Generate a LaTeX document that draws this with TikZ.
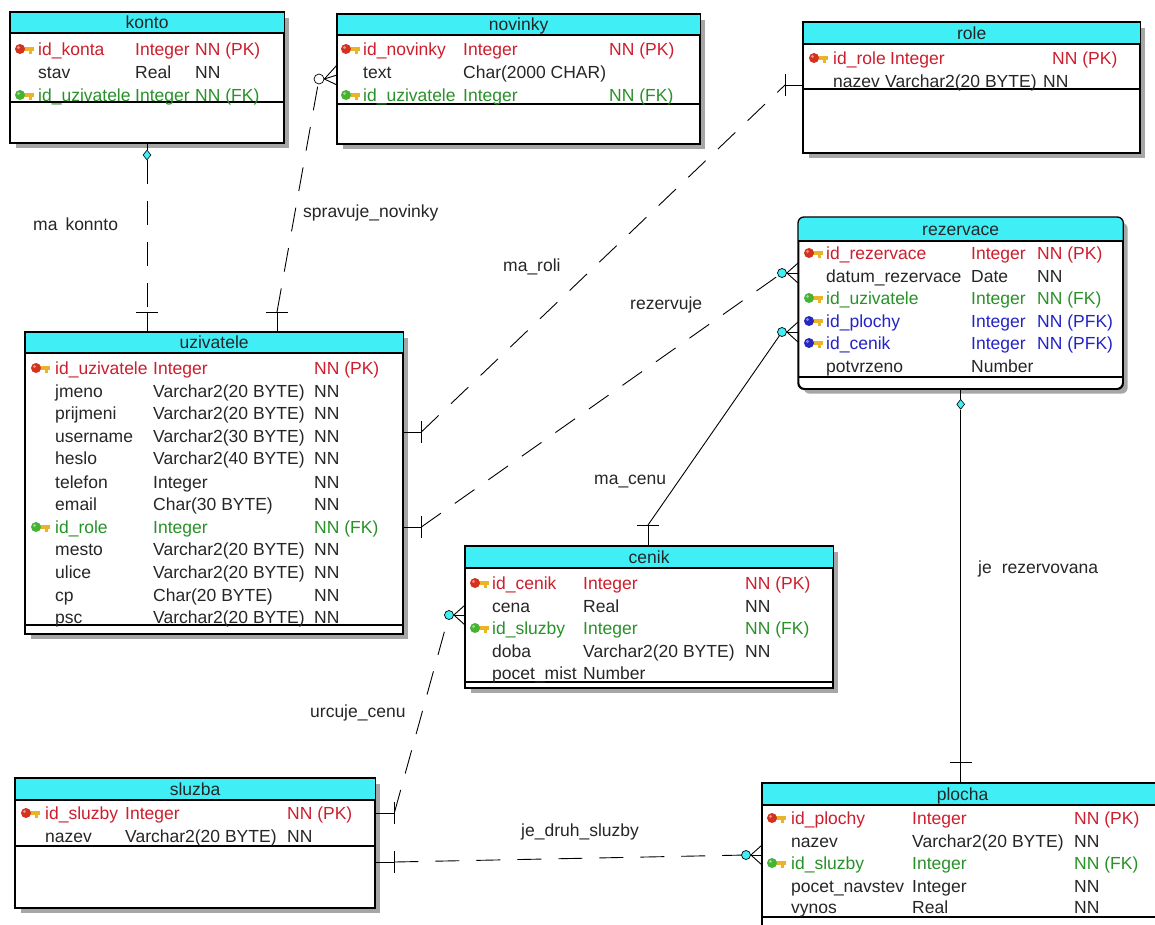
\documentclass[tikz,border=0pt]{standalone}
\usepackage{fontspec}
\setmainfont{Liberation Sans}
\usetikzlibrary{calc,shadows,shapes.geometric}
\definecolor{hdrcyan}{RGB}{64,238,246}
\definecolor{pkred}{RGB}{205,30,45}
\definecolor{fkgreen}{RGB}{40,145,40}
\definecolor{pfkblue}{RGB}{35,35,200}
\definecolor{keygold}{RGB}{235,180,40}
\definecolor{keyred}{RGB}{210,50,30}
\definecolor{keygreen}{RGB}{70,180,50}
\definecolor{keyblue}{RGB}{40,40,190}
\newcommand{\erf}{\fontsize{17.5}{20}\selectfont}
\tikzset{
  every node/.style={font=\erf},
  tbl/.style={draw=black, line width=1.3pt, fill=white, anchor=north west, inner sep=0pt,
    drop shadow={shadow xshift=5pt, shadow yshift=-5pt, fill=black!35, opacity=1}},
  tblline/.style={draw=black, line width=1.3pt},
  hdr/.style={fill=hdrcyan},
  ttl/.style={anchor=base, inner sep=0pt, text=black!85},
  rt/.style={anchor=base west, inner sep=0pt},
  txtblack/.style={text=black!85},
  txtpk/.style={text=pkred},
  txtfk/.style={text=fkgreen},
  txtpfk/.style={text=pfkblue},
  conn/.style={draw=black, line width=0.9pt},
  ldash/.style={dash pattern=on 24pt off 17pt},
  diam/.style={diamond, draw=black, fill=hdrcyan, inner sep=0pt, minimum width=8pt, minimum height=10pt, line width=0.6pt},
  ocirc/.style={circle, draw=black, fill=hdrcyan, inner sep=0pt, minimum size=9pt, line width=0.7pt},
  wcirc/.style={circle, draw=black, fill=white, inner sep=0pt, minimum size=10pt, line width=0.7pt},
  lbl/.style={anchor=base west, inner sep=0pt, text=black!85}
}
% table: [opts]{name}{x}{y}{w}{h}{header h}{separator offset}{title}
\newcommand{\ertable}[9][]{%
  \node[tbl,#1, minimum width=#5pt, minimum height=#6pt] (#2) at (#3,#4) {};
  \begin{scope}
    \clip[#1] (#2.north west) rectangle (#2.south east);
    \fill[hdr] (#2.north west) rectangle ([yshift=-#7pt]#2.north east);
  \end{scope}
  \draw[tblline] ([yshift=-#7pt]#2.north west) -- ([yshift=-#7pt]#2.north east);
  \draw[tblline] ([yshift=-#8pt]#2.north west) -- ([yshift=-#8pt]#2.north east);
  \draw[tblline,#1] (#2.north west) rectangle (#2.south east);
  \node[ttl] (#2-title) at ([yshift={-(0.5*#7+6)*1pt}]#2.north) {#9};
}
% row: {prefix}{baseline}{style}{x1}{name}{x2}{type}{x3}{constraint}
\newcommand{\erow}[9]{%
  \node[rt,#3] (#1-n) at (#4,#2) {#5};
  \node[rt,#3] (#1-t) at (#6,#2) {#7};
  \node[rt,#3] (#1-c) at (#8,#2) {#9};
}
% key icon: {x}{y}{color}
\newcommand{\keyicon}[3]{%
  \fill[keygold] (#1+7,#2-2) rectangle (#1+19,#2+2);
  \fill[keygold] (#1+14,#2) rectangle (#1+17,#2+4.5);
  \fill[#3] (#1+5,#2) circle (5pt);
  \fill[white,opacity=.45] (#1+3.5,#2-1.5) circle (1.6pt);
}
\begin{document}
\begin{tikzpicture}[x=1pt,y=-1pt]
\useasboundingbox (0,0) rectangle (1155,924);
\fill[white] (0,0) rectangle (1155,924);
\clip (0,0) rectangle (1155,924);

% ---------------- tables ----------------
\ertable{konto}{10}{12}{273}{130}{21}{90}{konto}
\keyicon{15}{49}{keyred}
\erow{ko1}{55}{txtpk}{38}{id\_konta}{135}{Integer}{195}{NN (PK)}
\erow{ko2}{78}{txtblack}{38}{stav}{135}{Real}{195}{NN}
\keyicon{15}{95}{keygreen}
\erow{ko3}{101}{txtfk}{38}{id\_uzivatele}{135}{Integer}{195}{NN (FK)}

\ertable{novinky}{337}{14}{362}{129}{21}{90}{novinky}
\keyicon{341}{49}{keyred}
\erow{no1}{55}{txtpk}{363}{id\_novinky}{463}{Integer}{609}{NN (PK)}
\erow{no2}{78}{txtblack}{363}{text}{463}{Char(2000 CHAR)}{609}{}
\keyicon{341}{95}{keygreen}
\erow{no3}{101}{txtfk}{363}{id\_uzivatele}{463}{Integer}{609}{NN (FK)}

\ertable{role}{803}{22}{336}{130}{22}{67}{role}
\keyicon{809}{58}{keyred}
\erow{ro1}{64}{txtpk}{833}{id\_role}{890}{Integer}{1052}{NN (PK)}
\erow{ro2}{87}{txtblack}{833}{nazev}{885}{Varchar2(20 BYTE)}{1043}{NN}

\ertable[rounded corners=6pt]{rezervace}{798}{217}{324}{171}{24}{160}{rezervace}
\keyicon{804}{253}{keyred}
\erow{re1}{259}{txtpk}{826}{id\_rezervace}{971}{Integer}{1037}{NN (PK)}
\erow{re2}{282}{txtblack}{826}{datum\_rezervace}{971}{Date}{1037}{NN}
\keyicon{804}{298}{keygreen}
\erow{re3}{304}{txtfk}{826}{id\_uzivatele}{971}{Integer}{1037}{NN (FK)}
\keyicon{804}{321}{keyblue}
\erow{re4}{327}{txtpfk}{826}{id\_plochy}{971}{Integer}{1037}{NN (PFK)}
\keyicon{804}{343}{keyblue}
\erow{re5}{349}{txtpfk}{826}{id\_cenik}{971}{Integer}{1037}{NN (PFK)}
\erow{re6}{372}{txtblack}{826}{potvrzeno}{971}{Number}{1037}{}

\ertable{uzivatele}{25}{332}{377}{301}{21}{293}{uzivatele}
\keyicon{31}{368}{keyred}
\erow{uz1}{374}{txtpk}{55}{id\_uzivatele}{153}{Integer}{314}{NN (PK)}
\erow{uz2}{397}{txtblack}{55}{jmeno}{153}{Varchar2(20 BYTE)}{314}{NN}
\erow{uz3}{419}{txtblack}{55}{prijmeni}{153}{Varchar2(20 BYTE)}{314}{NN}
\erow{uz4}{442}{txtblack}{55}{username}{153}{Varchar2(30 BYTE)}{314}{NN}
\erow{uz5}{464}{txtblack}{55}{heslo}{153}{Varchar2(40 BYTE)}{314}{NN}
\erow{uz6}{488}{txtblack}{55}{telefon}{153}{Integer}{314}{NN}
\erow{uz7}{510}{txtblack}{55}{email}{153}{Char(30 BYTE)}{314}{NN}
\keyicon{31}{527}{keygreen}
\erow{uz8}{533}{txtfk}{55}{id\_role}{153}{Integer}{314}{NN (FK)}
\erow{uz9}{555}{txtblack}{55}{mesto}{153}{Varchar2(20 BYTE)}{314}{NN}
\erow{uz10}{578}{txtblack}{55}{ulice}{153}{Varchar2(20 BYTE)}{314}{NN}
\erow{uz11}{601}{txtblack}{55}{cp}{153}{Char(20 BYTE)}{314}{NN}
\erow{uz12}{623}{txtblack}{55}{psc}{153}{Varchar2(20 BYTE)}{314}{NN}

\ertable{cenik}{465}{546}{367}{141}{22}{136}{cenik}
\keyicon{470}{583}{keyred}
\erow{ce1}{589}{txtpk}{492}{id\_cenik}{583}{Integer}{745}{NN (PK)}
\erow{ce2}{612}{txtblack}{492}{cena}{583}{Real}{745}{NN}
\keyicon{470}{628}{keygreen}
\erow{ce3}{634}{txtfk}{492}{id\_sluzby}{583}{Integer}{745}{NN (FK)}
\erow{ce4}{657}{txtblack}{492}{doba}{583}{Varchar2(20 BYTE)}{745}{NN}
\erow{ce5}{679}{txtblack}{492}{pocet\_mist}{583}{Number}{745}{}

\ertable{sluzba}{15}{778}{359}{129}{22}{68}{sluzba}
\keyicon{21}{813}{keyred}
\erow{sl1}{819}{txtpk}{45}{id\_sluzby}{125}{Integer}{287}{NN (PK)}
\erow{sl2}{842}{txtblack}{45}{nazev}{125}{Varchar2(20 BYTE)}{287}{NN}

\ertable{plocha}{762}{783}{400}{160}{22}{134}{plocha}
\keyicon{767}{818}{keyred}
\erow{pl1}{824}{txtpk}{791}{id\_plochy}{912}{Integer}{1074}{NN (PK)}
\erow{pl2}{847}{txtblack}{791}{nazev}{912}{Varchar2(20 BYTE)}{1074}{NN}
\keyicon{767}{863}{keygreen}
\erow{pl3}{869}{txtfk}{791}{id\_sluzby}{912}{Integer}{1074}{NN (FK)}
\erow{pl4}{892}{txtblack}{791}{pocet\_navstev}{912}{Integer}{1074}{NN}
\erow{pl5}{913}{txtblack}{791}{vynos}{912}{Real}{1074}{NN}

% ---------------- connectors ----------------
% ma konnto
\node[diam] (d1) at (147,155) {};
\coordinate (k1) at (d1 |- konto.south);
\coordinate (u1) at (d1 |- uzivatele.north);
\coordinate (u1b) at ($(u1)+(0,-20)$);
\draw[conn] (k1) -- (d1.north);
\draw[conn,ldash] (d1.south) -- (u1b);
\draw[conn] (u1b) -- (u1);
\draw[conn] ($(u1b)+(-11,0)$) -- ($(u1b)+(11,0)$);

% spravuje_novinky
\coordinate (u2) at ($(uzivatele.north west)+(252,0)$);
\coordinate (u2b) at ($(u2)+(0,-20)$);
\coordinate (n2) at ($(novinky.north west)+(0,61)$);
\node[wcirc] (n2c) at ($(n2)+(-18,4)$) {};
\draw[conn] (u2) -- (u2b);
\draw[conn] ($(u2b)+(-11,0)$) -- ($(u2b)+(11,0)$);
\draw[conn,ldash] (u2b) -- (n2c);
\draw[conn] ($(n2)+(0,-10)$) -- (n2c.east) -- ($(n2)+(0,10)$);
\draw[conn] (n2c.east) -- (n2);

% ma_roli
\coordinate (u3) at ($(uzivatele.north east)+(0,100)$);
\coordinate (u3b) at ($(u3)+(18,0)$);
\coordinate (ro3) at ($(role.north west)+(0,63)$);
\coordinate (ro3b) at ($(ro3)+(-18,0)$);
\draw[conn] (u3) -- (u3b);
\draw[conn] ($(u3b)+(0,-11)$) -- ($(u3b)+(0,11)$);
\draw[conn] (ro3) -- (ro3b);
\draw[conn] ($(ro3b)+(0,-11)$) -- ($(ro3b)+(0,11)$);
\draw[conn,ldash] (u3b) -- (ro3b);

% rezervuje
\coordinate (u4) at ($(uzivatele.north east)+(0,195)$);
\coordinate (u4b) at ($(u4)+(18,0)$);
\coordinate (r1) at ($(rezervace.north west)+(0,56)$);
\node[ocirc] (r1c) at ($(r1)+(-16,0)$) {};
\draw[conn] (u4) -- (u4b);
\draw[conn] ($(u4b)+(0,-11)$) -- ($(u4b)+(0,11)$);
\draw[conn,ldash] (u4b) -- (r1c);
\draw[conn] ($(r1)+(0,-10)$) -- (r1c.east) -- ($(r1)+(0,10)$);
\draw[conn] (r1c.east) -- (r1);

% ma_cenu
\coordinate (c5) at ($(cenik.north west)+(183,0)$);
\coordinate (c5b) at ($(c5)+(0,-21)$);
\coordinate (r2) at ($(rezervace.north west)+(0,115)$);
\node[ocirc] (r2c) at ($(r2)+(-16,0)$) {};
\draw[conn] (c5) -- (c5b);
\draw[conn] ($(c5b)+(-11,0)$) -- ($(c5b)+(11,0)$);
\draw[conn] (c5b) -- (r2c);
\draw[conn] ($(r2)+(0,-10)$) -- (r2c.east) -- ($(r2)+(0,10)$);
\draw[conn] (r2c.east) -- (r2);

% je rezervovana
\node[diam] (d2) at ($(rezervace.south)+(0,15)$) {};
\coordinate (p6) at (d2 |- plocha.north);
\coordinate (p6b) at ($(p6)+(0,-21)$);
\draw[conn] (rezervace.south) -- (d2.north);
\draw[conn] (d2.south) -- (p6);
\draw[conn] ($(p6b)+(-11,0)$) -- ($(p6b)+(11,0)$);

% urcuje_cenu
\coordinate (s7) at ($(sluzba.north east)+(0,35)$);
\coordinate (s7b) at ($(s7)+(19,0)$);
\coordinate (c7) at ($(cenik.north west)+(0,69)$);
\node[ocirc] (c7c) at ($(c7)+(-16,0)$) {};
\draw[conn] (s7) -- (s7b);
\draw[conn] ($(s7b)+(0,-11)$) -- ($(s7b)+(0,11)$);
\draw[conn,ldash] (s7b) -- (c7c);
\draw[conn] ($(c7)+(0,-10)$) -- (c7c.east) -- ($(c7)+(0,10)$);
\draw[conn] (c7c.east) -- (c7);

% je_druh_sluzby
\coordinate (s8) at ($(sluzba.north east)+(0,84)$);
\coordinate (s8b) at ($(s8)+(19,0)$);
\coordinate (p8) at ($(plocha.north west)+(0,72)$);
\node[ocirc] (p8c) at ($(p8)+(-16,0)$) {};
\draw[conn] (s8) -- (s8b);
\draw[conn] ($(s8b)+(0,-11)$) -- ($(s8b)+(0,11)$);
\draw[conn,ldash] (s8b) -- (p8c);
\draw[conn] ($(p8)+(0,-10)$) -- (p8c.east) -- ($(p8)+(0,10)$);
\draw[conn] (p8c.east) -- (p8);

% ---------------- labels ----------------
\node[lbl] (l1) at (33,230) {ma\hspace{8pt}konnto};
\node[lbl] (l2) at (303,217) {spravuje\_novinky};
\node[lbl] (l3) at (503,271) {ma\_roli};
\node[lbl] (l4) at (630,309) {rezervuje};
\node[lbl] (l5) at (594,484) {ma\_cenu};
\node[lbl] (l6) at (978,573) {je\hspace{10pt}rezervovana};
\node[lbl] (l7) at (310,717) {urcuje\_cenu};
\node[lbl] (l8) at (521,836) {je\_druh\_sluzby};
\end{tikzpicture}
\end{document}
